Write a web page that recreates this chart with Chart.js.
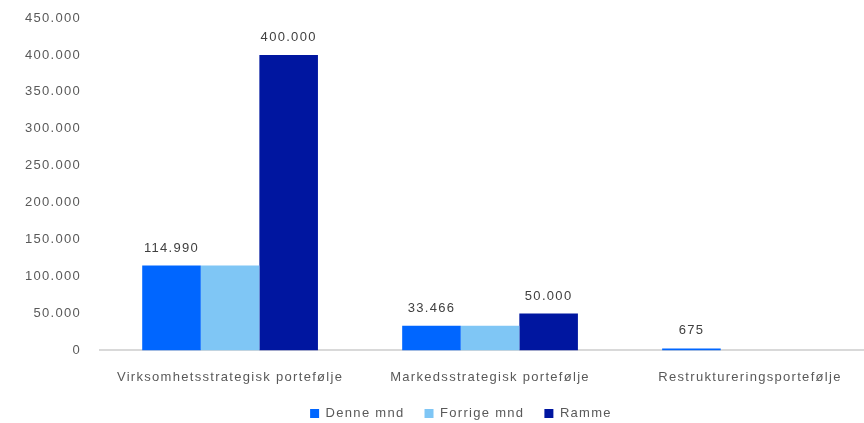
<!DOCTYPE html>
<html lang="no">
<head>
  <meta charset="UTF-8" />
  <title>Porteføljer</title>
  <script src="https://cdn.jsdelivr.net/npm/chart.js"></script>
  <style>
    body {
      margin: 0;
      background: #fff;
      overflow: hidden;
    }

    #wrap {
      width: 922px;
      height: 441px;
    }
  </style>
</head>
<body>
  <div id="wrap">
    <canvas id="graf"></canvas>
  </div>

  <script>
    const kategorier = ['Virksomhetsstrategisk portefølje', 'Markedsstrategisk portefølje', 'Restruktureringsportefølje'];
    const denneMnd = [114990, 33466, 675];
    const forrigeMnd = [114990, 33466, 0];
    const ramme = [400000, 50000, 0];
    const yTicks = [0, 50000, 100000, 150000, 200000, 250000, 300000, 350000, 400000, 450000];

    const tekstFarge = '#595959';
    const font = 'Liberation Sans';
    const sperring = '1.3px';

    function tusen(v) {
      return String(v).replace(/\B(?=(\d{3})+(?!\d))/g, '.');
    }

    // litt luft mellom bokstavene, som i Excel-eksporten
    const bokstavluft = {
      id: 'bokstavluft',
      beforeUpdate(chart) { chart.ctx.letterSpacing = sperring; },
      beforeDraw(chart) { chart.ctx.letterSpacing = sperring; }
    };

    // forklaringen: litt til høyre og tettere opp mot aksetekstene
    const flyttForklaring = {
      id: 'flyttForklaring',
      afterLayout(chart) {
        const lg = chart.legend;
        lg.left += 18;
        lg.right += 18;
        lg.top -= 9;
        lg.bottom -= 9;
      }
    };

    // verdier over søylene (ikke for forrige måned, og ikke for nuller)
    const etiketter = {
      id: 'etiketter',
      afterDatasetsDraw(chart) {
        const ctx = chart.ctx;
        ctx.save();
        ctx.font = '13px "' + font + '"';
        ctx.fillStyle = '#404040';
        ctx.textAlign = 'center';
        ctx.textBaseline = 'bottom';
        [0, 2].forEach((di) => {
          const meta = chart.getDatasetMeta(di);
          meta.data.forEach((bar, i) => {
            const v = chart.data.datasets[di].data[i];
            if (!v) return;
            ctx.fillText(tusen(v), bar.x, bar.y - 11);
          });
        });
        ctx.restore();
      }
    };

    new Chart(document.getElementById('graf'), {
      type: 'bar',
      data: {
        labels: kategorier,
        datasets: [
          { label: 'Denne mnd', data: denneMnd, backgroundColor: '#0066FF', minBarLength: 2 },
          { label: 'Forrige mnd', data: forrigeMnd, backgroundColor: '#7FC6F5' },
          { label: 'Ramme', data: ramme, backgroundColor: '#0016A0' }
        ]
      },
      options: {
        responsive: true,
        maintainAspectRatio: false,
        animation: false,
        layout: { padding: { top: 18, right: 42, left: 6, bottom: 2 } },
        datasets: {
          bar: { barPercentage: 1, categoryPercentage: 0.676 }
        },
        scales: {
          x: {
            grid: { display: false },
            border: { color: '#d9d9d9', width: 2 },
            ticks: { color: tekstFarge, font: { family: font, size: 13 }, padding: 11, maxRotation: 0 }
          },
          y: {
            min: 0,
            max: 450000,
            afterBuildTicks(axis) {
              axis.ticks = yTicks.map((v) => ({ value: v }));
            },
            afterFit(axis) {
              axis.paddingTop = 0;
            },
            grid: { display: false, drawTicks: false },
            border: { display: false },
            ticks: {
              color: tekstFarge,
              font: { family: font, size: 13 },
              padding: 19,
              callback: (v) => tusen(v)
            }
          }
        },
        plugins: {
          legend: {
            position: 'bottom',
            labels: {
              color: tekstFarge,
              font: { family: font, size: 13 },
              boxWidth: 9,
              boxHeight: 9,
              padding: 20
            }
          },
          tooltip: { enabled: false }
        }
      },
      plugins: [bokstavluft, flyttForklaring, etiketter]
    });
  </script>
</body>
</html>
